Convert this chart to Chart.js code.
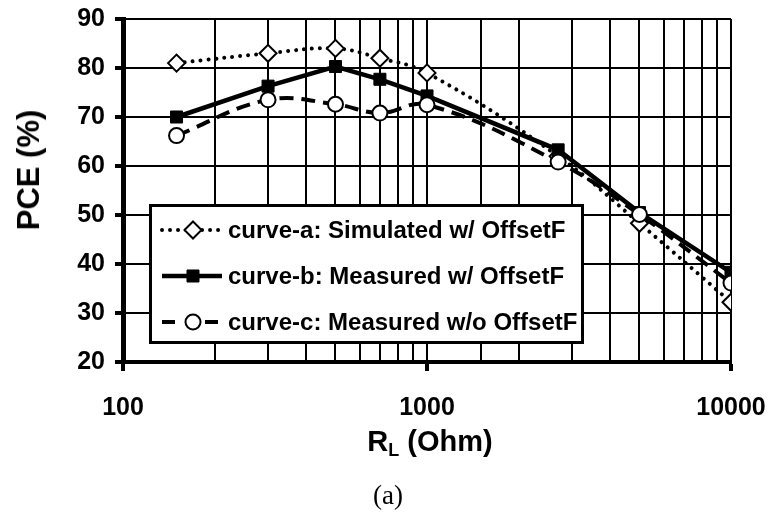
<!DOCTYPE html>
<html lang="en">
<head>
    <meta charset="UTF-8">
    <title>PCE vs RL</title>
    <script src="https://cdn.jsdelivr.net/npm/chart.js"></script>
    <style>
        html, body {
            margin: 0;
            padding: 0;
            background: #fff;
        }
        .wrap {
            position: relative;
            width: 773px;
            height: 519px;
        }
        .ytitle {
            position: absolute;
            left: 29px;
            top: 170px;
            transform: translate(-50%, -50%) rotate(-90deg);
            font: bold 31px "Liberation Sans", Arial, sans-serif;
            white-space: nowrap;
            color: #000;
        }
        .xtitle {
            position: absolute;
            left: 430px;
            top: 427px;
            transform: translateX(-50%);
            font: bold 29px "Liberation Sans", Arial, sans-serif;
            line-height: 29px;
            white-space: nowrap;
            color: #000;
        }
        .xtitle sub {
            font-size: 18px;
            vertical-align: -5px;
            line-height: 0;
        }
        .caption {
            position: absolute;
            left: 388px;
            top: 482px;
            transform: translateX(-50%);
            font: 27px "Liberation Serif", "Times New Roman", serif;
            line-height: 27px;
            color: #000;
        }
    </style>
</head>
<body>
    <div class="wrap">
        <canvas id="pceChart" width="773" height="519"></canvas>
        <div class="ytitle">PCE (%)</div>
        <div class="xtitle">R<sub>L</sub> (Ohm)</div>
        <div class="caption">(a)</div>
    </div>

    <script>
        // load resistance (Ohm)
        const rl = [150, 300, 500, 700, 1000, 2700, 5000, 10000];
        const curveA = [81, 83, 84, 82, 79, 62, 48.3, 32.2];
        const curveB = [70, 76.3, 80.3, 77.7, 74.3, 63.3, 50.5, 38.3];
        const curveC = [66.2, 73.5, 72.6, 70.8, 72.5, 60.8, 50.1, 36.1];
        const seriesNames = [
            'curve-a: Simulated w/ OffsetF',
            'curve-b: Measured w/ OffsetF',
            'curve-c: Measured w/o OffsetF'
        ];
        const xTickLabels = ['100', '1000', '10000'];

        const toPoints = vals => rl.map((x, i) => ({ x: x, y: vals[i] }));
        const isMajor = v => xTickLabels.includes(String(v));

        // legend drawn as a boxed panel inside the plot
        const legendBox = {
            id: 'legendBox',
            afterDraw(chart) {
                const ctx = chart.ctx;
                ctx.save();
                ctx.fillStyle = '#fff';
                ctx.fillRect(150.5, 205.5, 432, 137);
                ctx.lineWidth = 3;
                ctx.strokeStyle = '#000';
                ctx.strokeRect(150.5, 205.5, 432, 137);
                const rows = [230, 276, 322];
                chart.data.datasets.forEach((ds, i) => {
                    const y = rows[i];
                    ctx.save();
                    ctx.strokeStyle = '#000';
                    ctx.lineWidth = ds.borderWidth;
                    ctx.lineCap = ds.borderCapStyle || 'butt';
                    ctx.setLineDash(ds.legendDash || ds.borderDash || []);
                    ctx.beginPath();
                    ctx.moveTo(162, y);
                    ctx.lineTo(222, y);
                    ctx.stroke();
                    ctx.restore();
                    ctx.fillStyle = ds.pointBackgroundColor;
                    ctx.strokeStyle = '#000';
                    ctx.lineWidth = ds.pointBorderWidth;
                    Chart.helpers.drawPoint(ctx, {
                        pointStyle: ds.pointStyle,
                        radius: ds.pointRadius,
                        rotation: 0,
                        borderWidth: ds.pointBorderWidth
                    }, 193, y);
                    ctx.fillStyle = '#000';
                    ctx.font = 'bold 24px "Liberation Sans", Arial, sans-serif';
                    ctx.textBaseline = 'middle';
                    ctx.textAlign = 'left';
                    ctx.fillText(ds.label, 228, y + 1);
                });
                ctx.restore();
            }
        };

        const ctx = document.getElementById('pceChart').getContext('2d');
        const pceChart = new Chart(ctx, {
            type: 'line',
            data: {
                datasets: [{
                    label: seriesNames[0],
                    data: toPoints(curveA),
                    borderColor: '#000',
                    borderWidth: 4,
                    borderDash: [0.01, 8],
                    borderCapStyle: 'round',
                    tension: 0.4,
                    pointStyle: 'rectRot',
                    pointRadius: 8.5,
                    pointBorderWidth: 2,
                    pointBorderColor: '#000',
                    pointBackgroundColor: '#fff',
                    order: 2
                }, {
                    label: seriesNames[1],
                    data: toPoints(curveB),
                    borderColor: '#000',
                    borderWidth: 4.5,
                    tension: 0,
                    pointStyle: 'rect',
                    pointRadius: 8.5,
                    pointBorderWidth: 1,
                    pointBorderColor: '#000',
                    pointBackgroundColor: '#000',
                    order: 1
                }, {
                    label: seriesNames[2],
                    data: toPoints(curveC),
                    borderColor: '#000',
                    borderWidth: 4,
                    borderDash: [14, 8],
                    legendDash: [13, 30],
                    tension: 0.4,
                    pointStyle: 'circle',
                    pointRadius: 7.5,
                    pointBorderWidth: 2,
                    pointBorderColor: '#000',
                    pointBackgroundColor: '#fff',
                    order: 0
                }]
            },
            options: {
                responsive: false,
                animation: false,
                devicePixelRatio: 1,
                layout: {
                    padding: { left: 0, right: 42, top: 19, bottom: 0 }
                },
                plugins: {
                    legend: { display: false },
                    tooltip: { enabled: false }
                },
                scales: {
                    x: {
                        type: 'logarithmic',
                        min: 100,
                        max: 10000,
                        afterFit: s => {
                            s.height = 157;
                            s.paddingLeft = 0;
                            s.paddingRight = 0;
                        },
                        border: { color: '#000', width: 4 },
                        grid: {
                            color: '#000',
                            lineWidth: 2,
                            tickLength: 9,
                            tickWidth: 4,
                            tickColor: c => isMajor(c.tick.value) ? '#000' : 'rgba(0,0,0,0)'
                        },
                        ticks: {
                            autoSkip: false,
                            maxRotation: 0,
                            padding: 22,
                            color: '#000',
                            font: { family: '"Liberation Sans", Arial, sans-serif', size: 25, weight: 'bold' },
                            callback: v => isMajor(v) ? String(v) : ''
                        }
                    },
                    y: {
                        min: 20,
                        max: 90,
                        afterFit: s => {
                            s.width = 123;
                            s.paddingTop = 0;
                            s.paddingBottom = 0;
                        },
                        border: { color: '#000', width: 5 },
                        grid: {
                            color: '#000',
                            lineWidth: 2,
                            tickLength: 8,
                            tickWidth: 4
                        },
                        ticks: {
                            stepSize: 10,
                            padding: 10,
                            color: '#000',
                            font: { family: '"Liberation Sans", Arial, sans-serif', size: 25, weight: 'bold' }
                        }
                    }
                }
            },
            plugins: [legendBox]
        });
    </script>
</body>
</html>
